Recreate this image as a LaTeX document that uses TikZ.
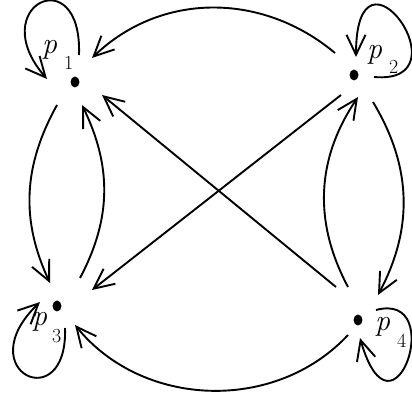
\documentclass[tikz,border=0pt]{standalone}
\usetikzlibrary{arrows.meta,calc,shapes.geometric}
\begin{document}
\begin{tikzpicture}[x=1bp,y=1bp,
  dot/.style={ellipse,fill,minimum width=9bp,minimum height=11bp,inner sep=0pt},
  edge/.style={line width=1.9bp,-{Straight Barb[length=20bp,width=19bp,line width=1.9bp]}},
  lab/.style={anchor=base west,inner sep=0pt,font=\fontsize{30}{30}\selectfont}]
\useasboundingbox (0,0) rectangle (412,396);
% points
\node[dot] (p1) at (75,314) {};
\node[dot] (p2) at (354,321) {};
\node[dot] (p3) at (57,90) {};
\node[dot] (p4) at (358,76) {};
% labels
\node[lab] (l1) at (42,343) {{\itshape p}\hspace{7bp}\raisebox{-16bp}{\fontsize{20}{20}\selectfont 1}};
\node[lab] (l2) at (367,338) {{\itshape p}\hspace{7bp}\raisebox{-15bp}{\fontsize{20}{20}\selectfont 2}};
\node[lab] (l3) at (32,71) {{\itshape p}\hspace{5bp}\raisebox{-17bp}{\fontsize{20}{20}\selectfont 3}};
\node[lab] (l4) at (375,66) {{\itshape p}\hspace{7bp}\raisebox{-17bp}{\fontsize{20}{20}\selectfont 4}};
% connectors
\draw[edge] ($(p2)+(-19,22)$) to[out=140,in=44] ($(p1)+(17,24)$);
\draw[edge] ($(p3)+(23,28)$) to[out=62,in=-64] ($(p1)+(7,-23)$);
\draw[edge] ($(p1)+(-18,-23)$) to[out=241,in=115] ($(p3)+(-7,23)$);
\draw[edge] ($(p4)+(-22,33)$) -- ($(p1)+(27,-13)$);
\draw[edge] ($(p2)+(-13,-20)$) -- ($(p3)+(35,16)$);
\draw[edge] ($(p4)+(-10,33)$) to[out=118,in=236] ($(p2)+(4,-22)$);
\draw[edge] ($(p2)+(19,-27)$) to[out=301,in=62] ($(p4)+(20,25)$);
\draw[edge] ($(p4)+(-10,-15)$) to[out=227,in=-51] ($(p3)+(18,-19)$);
% loops
\draw[edge] ($(p1)+(4,27)$) .. controls ($(p1)+(7.4,123.9)$) and ($(p1)+(-91.6,76.2)$) .. ($(p1)+(-28,3)$);
\draw[edge] ($(p2)+(20,-2)$) .. controls ($(p2)+(114.6,-10.3)$) and ($(p2)+(2,148)$) .. ($(p2)+(2,18)$);
\draw[edge] ($(p3)+(8,-22)$) .. controls ($(p3)+(11.1,-111.9)$) and ($(p3)+(-88.9,-65.5)$) .. ($(p3)+(-17,4)$);
\draw[edge] ($(p4)+(18,10)$) .. controls ($(p4)+(90.4,29.4)$) and ($(p4)+(35.1,-133.4)$) .. ($(p4)+(2,-18)$);
\end{tikzpicture}
\end{document}
